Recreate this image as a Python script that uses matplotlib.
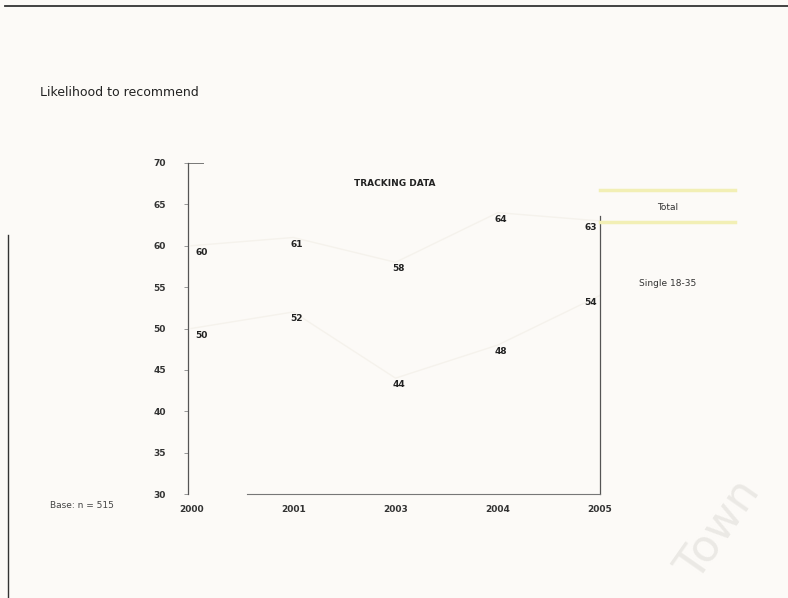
import numpy as np
import matplotlib
matplotlib.use('Agg')
from matplotlib import pyplot as plt
from matplotlib.lines import Line2D

#data
years=['2000','2001','2003','2004','2005']
total=[60,61,58,64,63]
single=[50,52,44,48,54]
series_names=['Total','Single 18-35']
y_ticks=[30,35,40,45,50,55,60,65,70]

bg='#fcfaf7'
fig=plt.figure(figsize=(7.88,5.98),dpi=100,facecolor=bg)
ax=fig.add_axes([188/788,1-494/598,412/788,331/598])
ax.set_facecolor(bg)

x=np.arange(len(years))
#lines are almost gone in the scan, keep them faint
ax.plot(x,total,color='#f5f2ec',lw=1)
ax.plot(x,single,color='#f5f2ec',lw=1)
#first labels sit right of the axis, last ones left of the right line
aligns=['left','center','center','center','right']
for xi,v,ha in zip(x,total,aligns):
    ax.text(xi+(0.04 if ha=='left' else -0.03 if ha=='right' else 0.03),v-0.8,str(v),
            ha=ha,va='center',fontsize=6.5,fontweight='bold',color='#222222')
for xi,v,ha in zip(x,single,aligns):
    ax.text(xi+(0.04 if ha=='left' else -0.03 if ha=='right' else 0.03),v-0.8,str(v),
            ha=ha,va='center',fontsize=6.5,fontweight='bold',color='#222222')

ax.set_xlim(-0.03,4.0)
ax.set_ylim(30,70)
ax.set_yticks(y_ticks)
ax.set_yticklabels([str(t) for t in y_ticks],fontsize=6.5,fontweight='bold',color='#333333')
ax.set_xticks(x)
ax.set_xticklabels(years,fontsize=6.5,fontweight='bold',color='#333333')
ax.tick_params(axis='y',length=3,width=0.6,color='#888888',pad=13)
ax.tick_params(axis='x',length=0,pad=8)
ax.spines['top'].set_visible(False)
ax.spines['left'].set_color('#555555')
ax.spines['left'].set_linewidth(0.9)
ax.spines['right'].set_color('#555555')
ax.spines['right'].set_linewidth(0.9)
ax.spines['right'].set_bounds(30,63.6)
ax.spines['bottom'].set_color('#777777')
ax.spines['bottom'].set_linewidth(0.8)
ax.spines['bottom'].set_bounds(0.55,4.0)
#short line at 70
ax.plot([-0.03,0.12],[70,70],color='#777777',lw=0.7,clip_on=False)

#titles
fig.text(40/788,1-92/598,'Likelihood to recommend',fontsize=9,color='#222222',va='center')
fig.text(395/788,1-183/598,'TRACKING DATA',fontsize=6.5,fontweight='bold',color='#222222',ha='center',va='center')
fig.text(82/788,1-505/598,'Base: n = 515',fontsize=6.5,color='#444444',ha='center',va='center')

#legend area
fig.text(668/788,1-208/598,series_names[0],fontsize=6.5,color='#333333',ha='center',va='center')
fig.text(668/788,1-283/598,series_names[1],fontsize=6.5,color='#333333',ha='center',va='center')
for yy in [190,222]:
    fig.add_artist(Line2D([600/788,735/788],[1-yy/598,1-yy/598],color='#f2efb5',lw=2.5))

#page borders of the scan
fig.add_artist(Line2D([5/788,1.0],[1-6/598,1-6/598],color='#333333',lw=1.3))
fig.add_artist(Line2D([8/788,8/788],[0,1-235/598],color='#333333',lw=1.0))

#watermark
fig.text(718/788,1-530/598,'Town',fontsize=32,rotation=55,color='#ebe9e5',ha='center',va='center')

plt.savefig('out.png',dpi=100,facecolor=bg)
